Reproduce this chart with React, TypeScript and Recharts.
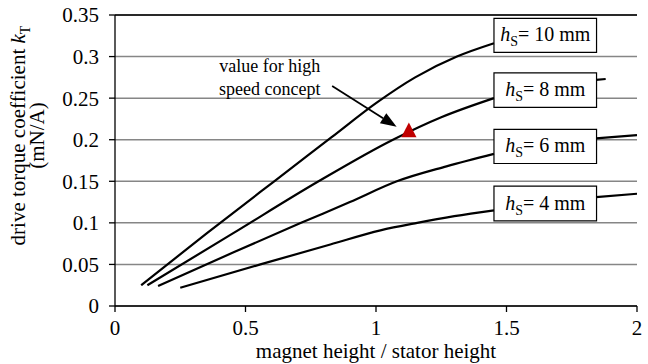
import React from "react";
import {
  ComposedChart,
  Line,
  Scatter,
  XAxis,
  YAxis,
  CartesianGrid,
  ReferenceArea,
  ReferenceLine,
  ReferenceDot,
} from "recharts";

// magnet height / stator height vs drive torque coefficient (mN/A)
// null = hidden behind the label box
const hs10: [number, number | null][] = [
  [0.1, 0.025], [0.35, 0.087], [0.61, 0.15], [0.83, 0.203], [1.0, 0.244],
  [1.15, 0.275], [1.31, 0.3], [1.452, 0.316],
];
const hs8: [number, number | null][] = [
  [0.124, 0.025], [0.45, 0.087], [0.78, 0.15], [1.065, 0.2], [1.25, 0.227],
  [1.452, 0.25], [1.6, null], [1.843, 0.272], [1.88, 0.273],
];
const hs6: [number, number | null][] = [
  [0.165, 0.024], [0.45, 0.064], [0.713, 0.1], [0.9, 0.125], [1.08, 0.15],
  [1.27, 0.168], [1.452, 0.183], [1.6, null], [1.843, 0.2015], [2.0, 0.2055],
];
const hs4: [number, number | null][] = [
  [0.25, 0.022], [0.557, 0.05], [0.825, 0.074], [1.017, 0.091], [1.158, 0.1],
  [1.3, 0.108], [1.452, 0.115], [1.6, null], [1.843, 0.131], [2.0, 0.135],
];

const highSpeedPoint = [{ x: 1.126, y: 0.209 }];

const xTicks = [0, 0.5, 1, 1.5, 2];
const yTicks = [0, 0.05, 0.1, 0.15, 0.2, 0.25, 0.3, 0.35];

// label boxes: text, y top, y bottom (data units)
const boxLabels = ["10", "8", "6", "4"];
const boxTops = [0.346, 0.2805, 0.2124, 0.1441];
const boxBottoms = [0.305, 0.2389, 0.1714, 0.1023];
const boxX = [1.452, 1.845];

const FONT = "Liberation Serif";
const fontStyle = { fontFamily: FONT };

const toRows = (pts: [number, number | null][]) => pts.map(([x, y]) => ({ x, y }));

const renderBoxLabel = (viewBox: any, mm: string) => {
  const { x, y, width, height } = viewBox;
  return (
    <text
      x={x + width / 2}
      y={y + height / 2 + 6}
      textAnchor="middle"
      style={fontStyle}
      fontSize={20}
      fill="#000"
    >
      <tspan fontStyle="italic">h</tspan>
      <tspan fontSize={14} dy={5}>S</tspan>
      <tspan dy={-5}>{`= ${mm} mm`}</tspan>
    </text>
  );
};

const arrowShape = (props: any) => {
  const { x1, y1, x2, y2 } = props;
  const a = Math.atan2(y2 - y1, x2 - x1);
  const len = 16;
  const half = 6;
  const bx = x2 - len * Math.cos(a);
  const by = y2 - len * Math.sin(a);
  const p1 = `${bx + half * Math.sin(a)},${by - half * Math.cos(a)}`;
  const p2 = `${bx - half * Math.sin(a)},${by + half * Math.cos(a)}`;
  return (
    <g>
      <line x1={x1} y1={y1} x2={bx} y2={by} stroke="#000" strokeWidth={1.8} />
      <polygon points={`${x2},${y2} ${p1} ${p2}`} fill="#000" />
    </g>
  );
};

const noteShape = (props: any) => {
  const { cx, cy } = props;
  return (
    <text x={cx} y={cy} textAnchor="middle" style={fontStyle} fontSize={18} fill="#000">
      <tspan x={cx} dy={-5}>value for high</tspan>
      <tspan x={cx} dy={23}>speed concept</tspan>
    </text>
  );
};

const triangleShape = (props: any) => {
  const { cx, cy } = props;
  return (
    <polygon
      points={`${cx},${cy - 9.7} ${cx - 7.6},${cy + 4.9} ${cx + 7.6},${cy + 4.9}`}
      fill="#c00000"
    />
  );
};

const YLabel = (props: any) => {
  const { x, y, height } = props.viewBox;
  const cy = y + height / 2 - 25;
  return (
    <g style={fontStyle} fontSize={21} fill="#000">
      <text x={x + 25} y={cy} textAnchor="middle" transform={`rotate(-90 ${x + 25} ${cy})`}>
        drive torque coefficient <tspan fontStyle="italic">k</tspan>
        <tspan fontSize={14} dy={5}>T</tspan>
      </text>
      <text x={x + 44} y={cy} textAnchor="middle" transform={`rotate(-90 ${x + 44} ${cy})`}>
        (mN/A)
      </text>
    </g>
  );
};

const XLabel = (props: any) => {
  const { x, y, width } = props.viewBox;
  return (
    <text x={x + width / 2} y={y + 52} textAnchor="middle" style={fontStyle} fontSize={21} fill="#000">
      magnet height / stator height
    </text>
  );
};

const series = [hs10, hs8, hs6, hs4];

export default function App() {
  return (
    <div
      style={{
        position: "absolute",
        left: 0,
        top: 0,
        width: 648,
        height: 364,
        background: "#fff",
        fontFamily: FONT,
      }}
    >
      <ComposedChart
        width={648}
        height={364}
        margin={{ top: 15, right: 11, left: 0, bottom: 0 }}
        style={fontStyle}
      >
        <CartesianGrid vertical={false} stroke="#868686" strokeWidth={1.5} />
        <XAxis
          type="number"
          dataKey="x"
          domain={[0, 2]}
          ticks={xTicks}
          height={58}
          tickSize={6}
          tickMargin={8}
          stroke="#000"
          strokeWidth={1.3}
          tick={{ fill: "#000", fontSize: 21, style: fontStyle }}
          label={<XLabel />}
          allowDataOverflow
        />
        <YAxis
          type="number"
          dataKey="y"
          domain={[0, 0.35]}
          ticks={yTicks}
          width={115}
          tickSize={6}
          tickMargin={10}
          stroke="#000"
          strokeWidth={1.3}
          tick={{ fill: "#000", fontSize: 21, style: fontStyle }}
          label={<YLabel />}
          allowDataOverflow
        />
        <ReferenceLine y={0.35} stroke="#000" strokeWidth={1.3} />
        {series.map((s, i) => (
          <Line
            key={i}
            data={toRows(s)}
            dataKey="y"
            type="monotone"
            stroke="#000"
            strokeWidth={2.2}
            dot={false}
            activeDot={false}
            isAnimationActive={false}
          />
        ))}
        {boxLabels.map((mm, i) => (
          <ReferenceArea
            key={mm}
            x1={boxX[0]}
            x2={boxX[1]}
            y1={boxBottoms[i]}
            y2={boxTops[i]}
            fill="#fff"
            fillOpacity={1}
            stroke="#000"
            strokeWidth={1.2}
            label={(p: any) => renderBoxLabel(p.viewBox, mm)}
          />
        ))}
        <ReferenceLine
          segment={[
            { x: 0.832, y: 0.2645 },
            { x: 1.079, y: 0.2155 },
          ]}
          shape={arrowShape}
        />
        <ReferenceDot x={0.593} y={0.276} r={0} shape={noteShape} />
        <Scatter data={highSpeedPoint} dataKey="y" shape={triangleShape} isAnimationActive={false} />
      </ComposedChart>
    </div>
  );
}
